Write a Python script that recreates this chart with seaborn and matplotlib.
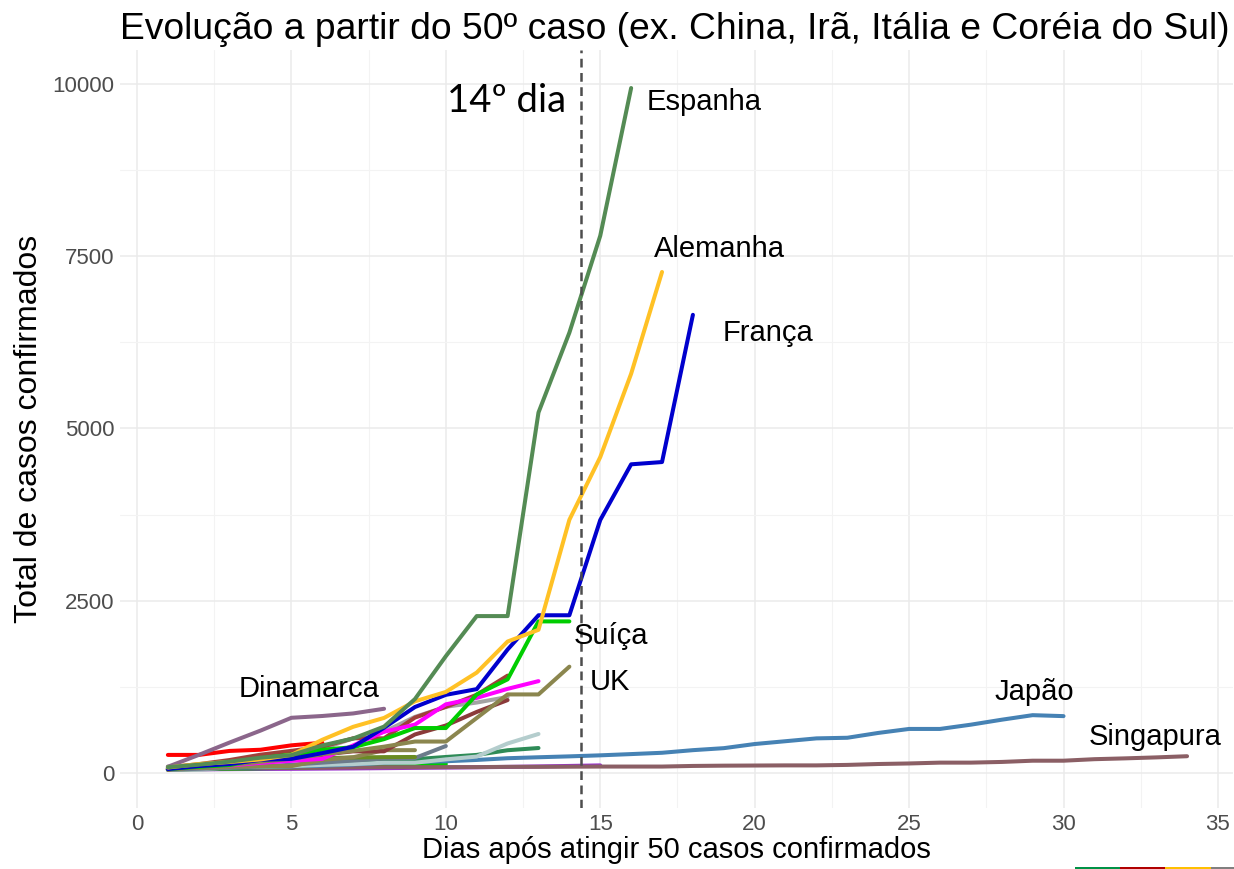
import pandas as pd
import matplotlib
matplotlib.use("Agg")
import matplotlib.pyplot as plt
import matplotlib.patches as mpatches
from matplotlib.ticker import MultipleLocator
import seaborn as sns

# casos acumulados a partir do dia em que cada pais passou de 50 casos (dia 1, 2, ...)
espanha = [84, 120, 165, 222, 259, 400, 500, 673, 1073, 1695, 2277, 2277, 5232, 6391, 7798, 9942]
alemanha = [79, 130, 159, 196, 262, 482, 670, 799, 1040, 1176, 1457, 1908, 2078, 3675, 4585, 5795, 7272]
franca = [57, 100, 130, 191, 204, 288, 380, 656, 957, 1134, 1217, 1792, 2289, 2289, 3672, 4480, 4513, 6650]
suica = [56, 90, 114, 214, 268, 337, 374, 491, 652, 652, 1139, 1359, 2200, 2200]
uk = [51, 85, 115, 163, 206, 273, 321, 382, 456, 456, 798, 1140, 1140, 1543]
dinamarca = [90, 262, 442, 615, 801, 827, 864, 932]
japao = [59, 66, 74, 84, 94, 105, 122, 147, 159, 170, 189, 214, 228, 241, 256, 274, 293, 331,
         360, 420, 461, 502, 511, 581, 639, 639, 701, 773, 839, 825]
singapura = [50, 58, 67, 72, 75, 77, 81, 84, 84, 85, 85, 89, 89, 91, 93, 93, 93, 102, 106, 108,
             110, 110, 117, 130, 138, 150, 150, 160, 178, 178, 200, 212, 226, 243]
holanda = [82, 128, 188, 265, 321, 382, 503, 503, 804, 959, 1135, 1413]
belgica = [50, 109, 169, 200, 239, 267, 314, 314, 559, 689, 886, 1058]
suecia = [94, 101, 161, 203, 248, 355, 500, 599, 814, 961, 1022, 1103]
noruega = [56, 87, 108, 147, 176, 205, 400, 598, 702, 996, 1090, 1221, 1333]
catar = [262, 262, 320, 337, 401, 439]
malasia = [50, 50, 83, 93, 99, 117, 129, 149, 149, 197, 238, 428, 566]
grecia = [73, 73, 89, 99, 99, 190, 228, 331, 331]
pais_a = [50, 60, 70, 85, 100, 120, 140, 170, 200, 232, 262, 330, 362]
pais_b = [50, 60, 75, 95, 120, 150, 180, 210, 217, 391]
pais_c = [55, 85, 120, 160, 200, 215, 225, 230, 232]
pais_d = [50, 55, 60, 68, 75, 85, 95, 110, 120, 130]
pais_e = [50, 52, 55, 58, 60, 63, 66, 70, 74, 78, 83, 88, 95, 102, 110]
pais_f = [52, 60, 70, 80, 92, 105, 116]

series = {
    "Pais E": pais_e, "Pais F": pais_f, "Pais D": pais_d, "Singapura": singapura,
    "Japão": japao, "Pais A": pais_a, "Malásia": malasia, "Pais B": pais_b,
    "Pais C": pais_c, "Grécia": grecia, "Suécia": suecia, "Bélgica": belgica,
    "Holanda": holanda, "Catar": catar, "Noruega": noruega, "Dinamarca": dinamarca,
    "UK": uk, "Suíça": suica, "França": franca, "Alemanha": alemanha, "Espanha": espanha,
}

cores = {
    "Espanha": "#548B54", "Alemanha": "#FFC125", "França": "#0000CD", "Suíça": "#00CD00",
    "UK": "#8B864E", "Dinamarca": "#8B668B", "Japão": "#4682B4", "Singapura": "#8B5F65",
    "Holanda": "#A0403A", "Bélgica": "#8B3A3A", "Suécia": "#A3A3A3", "Noruega": "#FF00FF",
    "Catar": "#FF0000", "Malásia": "#B4CDCD", "Grécia": "#8B864E", "Pais A": "#2E8B57",
    "Pais B": "#6C7B8B", "Pais C": "#698B22", "Pais D": "#00CD00", "Pais E": "#9A32CD",
    "Pais F": "#E00000",
}

linhas = []
for pais, valores in series.items():
    for i, v in enumerate(valores):
        linhas.append({"pais": pais, "dia": i + 1, "casos": v})
df = pd.DataFrame(linhas)

rotulos = {
    "Espanha": (16.5, 9740), "Alemanha": (16.75, 7610), "França": (18.95, 6390),
    "Suíça": (14.15, 1990), "UK": (14.65, 1320), "Dinamarca": (3.3, 1215),
    "Japão": (27.75, 1175), "Singapura": (30.8, 520),
}

sns.set_theme(style="whitegrid")
plt.rcParams["font.family"] = ["Liberation Sans", "DejaVu Sans"]

fig, ax = plt.subplots(figsize=(12.34, 8.69), dpi=100)
fig.subplots_adjust(left=0.097, right=0.999, top=0.942, bottom=0.070)

sns.lineplot(data=df, x="dia", y="casos", hue="pais", hue_order=list(series.keys()),
             palette=cores, linewidth=2.9, legend=False, ax=ax)

ax.axvline(14.37, color="#4D4D4D", linestyle=(0, (3.5, 2.2)), linewidth=1.8)
ax.text(13.9, 9760, "14º dia", ha="right", va="center", fontsize=27.5,
        family=["Lato", "DejaVu Sans"], color="black")

for nome, (tx, ty) in rotulos.items():
    ax.text(tx, ty, nome, ha="left", va="center", fontsize=21, color="black")

ax.set_xlim(-0.56, 35.48)
ax.set_ylim(-511, 10488)
ax.xaxis.set_major_locator(MultipleLocator(5))
ax.xaxis.set_minor_locator(MultipleLocator(2.5))
ax.yaxis.set_major_locator(MultipleLocator(2500))
ax.yaxis.set_minor_locator(MultipleLocator(1250))
ax.grid(which="major", color="#EBEBEB", linewidth=1.1)
ax.grid(which="minor", color="#F3F3F3", linewidth=0.8)
ax.set_facecolor("white")
for s in ax.spines.values():
    s.set_visible(False)
ax.tick_params(which="both", length=0, labelsize=16, colors="#4D4D4D", pad=4)

ax.set_title("Evolução a partir do 50º caso (ex. China, Irã, Itália e Coréia do Sul)",
             fontsize=26.8, color="black", pad=8, loc="left", x=0.0)
ax.set_xlabel("Dias após atingir 50 casos confirmados", fontsize=21, color="black", labelpad=1)
ax.set_ylabel("Total de casos confirmados", fontsize=23, color="black", labelpad=6)

# faixa colorida no canto inferior direito
faixa = [(1075, 1120, "#009246"), (1120, 1165, "#B00000"), (1165, 1211, "#FFC000"), (1211, 1234, "#808080")]
for x0, x1, c in faixa:
    fig.add_artist(mpatches.Rectangle((x0 / 1234, 0), (x1 - x0) / 1234, 2.5 / 869,
                                      transform=fig.transFigure, color=c, lw=0))

fig.savefig("out.png", dpi=100)
